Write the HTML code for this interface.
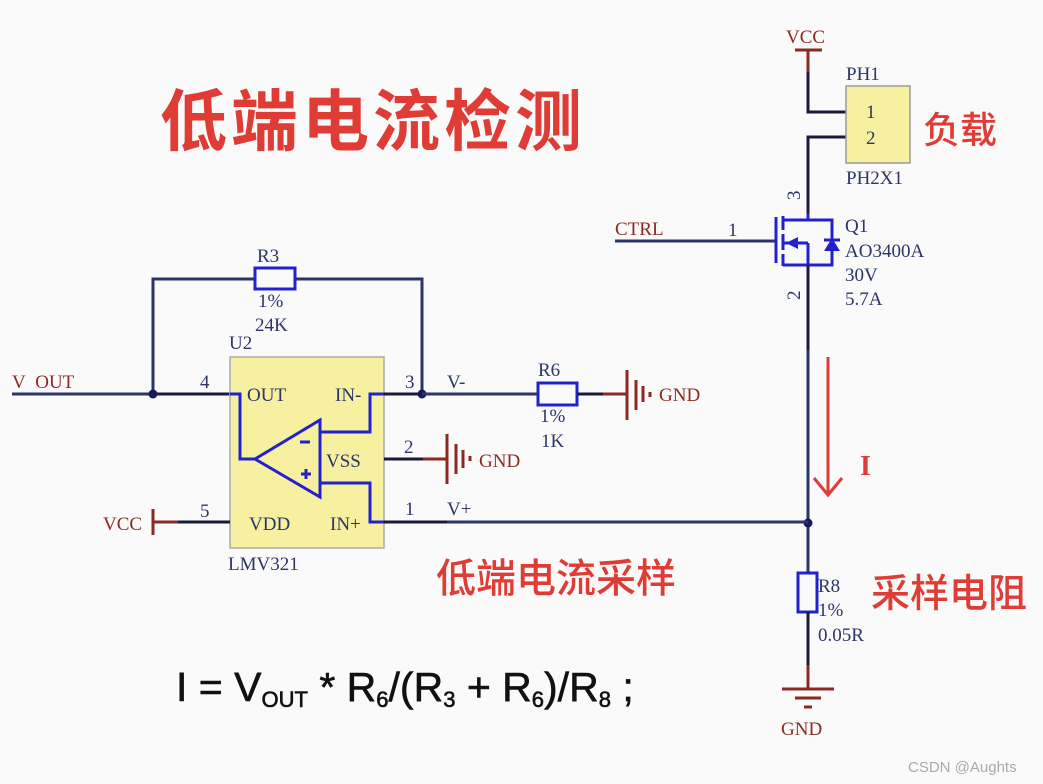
<!DOCTYPE html>
<html><head><meta charset="utf-8"><style>
html,body{margin:0;padding:0;background:#fafafa}
svg{display:block}
.s{font-family:"Liberation Serif","Noto Serif CJK SC",serif;fill:#2b3569;font-size:19px}
.r{font-family:"Liberation Serif",serif;fill:#8b2a22;font-size:19px}
.cn{font-family:"Liberation Sans","Noto Sans CJK SC",sans-serif;fill:#e03c36}
</style></head><body>
<svg width="1043" height="784" viewBox="0 0 1043 784" xmlns="http://www.w3.org/2000/svg">
<rect width="1043" height="784" fill="#fafafa"/>
<text x="160" y="145" class="cn" font-size="67" font-weight="bold" letter-spacing="4">低端电流检测</text>
<text x="786" y="43" class="r">VCC</text>
<line x1="795" y1="50" x2="822" y2="50" stroke="#8b2a22" stroke-width="3"/>
<line x1="808" y1="50" x2="808" y2="72" stroke="#8b2a22" stroke-width="3"/>
<polyline points="808,72 808,112 846,112" fill="none" stroke="#1a1a3a" stroke-width="3"/>
<polyline points="808,213 808,137 846,137" fill="none" stroke="#1a1a3a" stroke-width="3"/>
<rect x="846" y="86" width="64" height="77" fill="#f6f0a0" stroke="#999" stroke-width="1.5"/>
<text x="846" y="80" class="s">PH1</text>
<text x="866" y="118" class="s" font-size="20">1</text>
<text x="866" y="144" class="s" font-size="20">2</text>
<text x="846" y="184" class="s">PH2X1</text>
<text x="923" y="143" class="cn" font-size="37" font-weight="500">负载</text>
<text x="800" y="200" class="s" transform="rotate(-90 800 200)" font-size="17">3</text>
<text x="615" y="235" class="r">CTRL</text>
<line x1="615" y1="241" x2="776" y2="241" stroke="#2b3569" stroke-width="3"/>
<text x="728" y="236" class="s">1</text>
<g stroke="#2222cc" stroke-width="3" fill="none">
<line x1="776" y1="217" x2="776" y2="263"/>
<line x1="783" y1="216" x2="783" y2="230"/>
<line x1="783" y1="234" x2="783" y2="250"/>
<line x1="783" y1="254" x2="783" y2="266"/>
<polyline points="783,220 808,220 832,220 832,265 808,265 783,265"/>
<line x1="783" y1="243" x2="808" y2="243"/>
<line x1="808" y1="243" x2="808" y2="265"/>
<line x1="808" y1="213" x2="808" y2="220"/>
<line x1="824" y1="240" x2="840" y2="240"/>
</g>
<polygon points="786,243 798,237 798,249" fill="#2222cc"/>
<polygon points="832,238 824,251 840,251" fill="#2222cc"/>
<text x="845" y="232" class="s">Q1</text>
<text x="845" y="257" class="s">AO3400A</text>
<text x="845" y="281" class="s">30V</text>
<text x="845" y="305" class="s">5.7A</text>
<text x="800" y="300" class="s" transform="rotate(-90 800 300)" font-size="17">2</text>
<line x1="808" y1="265" x2="808" y2="573" stroke="#1a1a3a" stroke-width="3"/>
<line x1="808" y1="350" x2="808" y2="573" stroke="#2b3569" stroke-width="3"/>
<line x1="828" y1="357" x2="828" y2="495" stroke="#e03c36" stroke-width="3"/>
<polyline points="814,478 828,495 842,478" fill="none" stroke="#e03c36" stroke-width="3"/>
<text x="860" y="475" font-family="Liberation Serif,serif" font-weight="bold" font-size="28" fill="#e03c36">I</text>
<circle cx="808" cy="523" r="4.5" fill="#1a1a5a"/>
<rect x="798" y="573" width="19" height="39" fill="#fafafa" stroke="#2222cc" stroke-width="3"/>
<line x1="808" y1="612" x2="808" y2="665" stroke="#1a1a3a" stroke-width="3"/>
<line x1="808" y1="665" x2="808" y2="689" stroke="#8b2a22" stroke-width="3"/>
<text x="818" y="592" class="s" font-size="18">R8</text>
<text x="818" y="616" class="s" font-size="18">1%</text>
<text x="818" y="641" class="s" font-size="18">0.05R</text>
<g stroke="#8b2a22" stroke-width="3">
<line x1="782" y1="689" x2="834" y2="689"/><line x1="795" y1="698" x2="821" y2="698"/><line x1="804" y1="707" x2="812" y2="707"/></g>
<text x="781" y="735" class="r">GND</text>
<text x="871" y="607" class="cn" font-size="39" font-weight="500">采样电阻</text>
<text x="12" y="388" class="r">V&#160;&#160;OUT</text>
<line x1="12" y1="394" x2="230" y2="394" stroke="#2b3569" stroke-width="3"/>
<line x1="153" y1="394" x2="230" y2="394" stroke="#1a1a3a" stroke-width="3"/>
<polyline points="153,394 153,279 255,279" fill="none" stroke="#2b3569" stroke-width="3"/>
<polyline points="295,279 422,279 422,394" fill="none" stroke="#2b3569" stroke-width="3"/>
<rect x="255" y="268" width="40" height="21" fill="#fafafa" stroke="#2222cc" stroke-width="3"/>
<text x="257" y="262" class="s">R3</text>
<text x="258" y="307" class="s">1%</text>
<text x="255" y="331" class="s">24K</text>
<text x="229" y="349" class="s">U2</text>
<circle cx="153" cy="394" r="4.5" fill="#1a1a5a"/>
<circle cx="422" cy="394" r="4.5" fill="#1a1a5a"/>
<text x="200" y="388" class="s">4</text>
<text x="405" y="388" class="s">3</text>
<text x="404" y="453" class="s">2</text>
<text x="405" y="515" class="s">1</text>
<text x="200" y="517" class="s">5</text>
<rect x="230" y="357" width="154" height="191" fill="#f6f0a0" stroke="#aaa" stroke-width="1.5"/>
<text x="247" y="401" class="s" font-size="21">OUT</text>
<text x="335" y="401" class="s" font-size="21">IN-</text>
<text x="326" y="467" class="s" font-size="21">VSS</text>
<text x="249" y="530" class="s" font-size="21">VDD</text>
<text x="330" y="530" class="s" font-size="21">IN+</text>
<text x="228" y="570" class="s">LMV321</text>
<g fill="none" stroke="#2222cc" stroke-width="3">
<polyline points="230,394 240,394 240,459 255,459"/>
<polygon points="255,459 320,420 320,497"/>
<polyline points="320,432 370,432 370,394 384,394"/>
<polyline points="320,483 370,483 370,522 384,522"/>
<line x1="300" y1="442" x2="310" y2="442"/>
<line x1="301" y1="474" x2="311" y2="474"/><line x1="306" y1="469" x2="306" y2="479"/>
</g>
<line x1="384" y1="394" x2="540" y2="394" stroke="#2b3569" stroke-width="3"/>
<line x1="384" y1="394" x2="422" y2="394" stroke="#1a1a3a" stroke-width="3"/>
<text x="447" y="388" class="s">V-</text>
<rect x="538" y="383" width="39" height="22" fill="#fafafa" stroke="#2222cc" stroke-width="3"/>
<text x="538" y="376" class="s">R6</text>
<text x="540" y="422" class="s">1%</text>
<text x="541" y="447" class="s">1K</text>
<line x1="577" y1="394" x2="603" y2="394" stroke="#1a1a3a" stroke-width="3"/>
<g stroke="#8b2a22" stroke-width="3">
<line x1="603" y1="394" x2="627" y2="394"/><line x1="627" y1="370" x2="627" y2="420"/>
<line x1="636" y1="380" x2="636" y2="410"/><line x1="643" y1="386" x2="643" y2="402"/><line x1="650" y1="392" x2="650" y2="397"/></g>
<text x="659" y="401" class="r" font-size="20">GND</text>
<line x1="384" y1="459" x2="423" y2="459" stroke="#1a1a3a" stroke-width="3"/>
<g stroke="#8b2a22" stroke-width="3">
<line x1="423" y1="459" x2="447" y2="459"/><line x1="447" y1="434" x2="447" y2="484"/>
<line x1="456" y1="444" x2="456" y2="474"/><line x1="463" y1="450" x2="463" y2="468"/><line x1="470" y1="456" x2="470" y2="461"/></g>
<text x="479" y="467" class="r" font-size="20">GND</text>
<line x1="384" y1="522" x2="808" y2="522" stroke="#2b3569" stroke-width="3"/>
<line x1="384" y1="522" x2="447" y2="522" stroke="#1a1a3a" stroke-width="3"/>
<text x="447" y="515" class="s">V+</text>
<text x="103" y="530" class="r">VCC</text>
<line x1="153" y1="509" x2="153" y2="535" stroke="#8b2a22" stroke-width="3"/>
<line x1="153" y1="522" x2="178" y2="522" stroke="#8b2a22" stroke-width="3"/>
<line x1="178" y1="522" x2="230" y2="522" stroke="#1a1a3a" stroke-width="3"/>
<text x="436" y="592" class="cn" font-size="40" font-weight="500">低端电流采样</text>
<text x="176" y="701" font-family="Liberation Sans,sans-serif" font-size="41" fill="#111" stroke="#111" stroke-width="0.6">I = V<tspan font-size="22" dy="6">OUT</tspan><tspan dy="-6"> * R</tspan><tspan font-size="22" dy="6">6</tspan><tspan dy="-6">/(R</tspan><tspan font-size="22" dy="6">3</tspan><tspan dy="-6"> + R</tspan><tspan font-size="22" dy="6">6</tspan><tspan dy="-6">)/R</tspan><tspan font-size="22" dy="6">8</tspan><tspan dy="-6"> ;</tspan></text>
<text x="908" y="772" font-family="Liberation Sans,sans-serif" font-size="15" fill="#aaa">CSDN @Aughts</text>
</svg>
</body></html>
